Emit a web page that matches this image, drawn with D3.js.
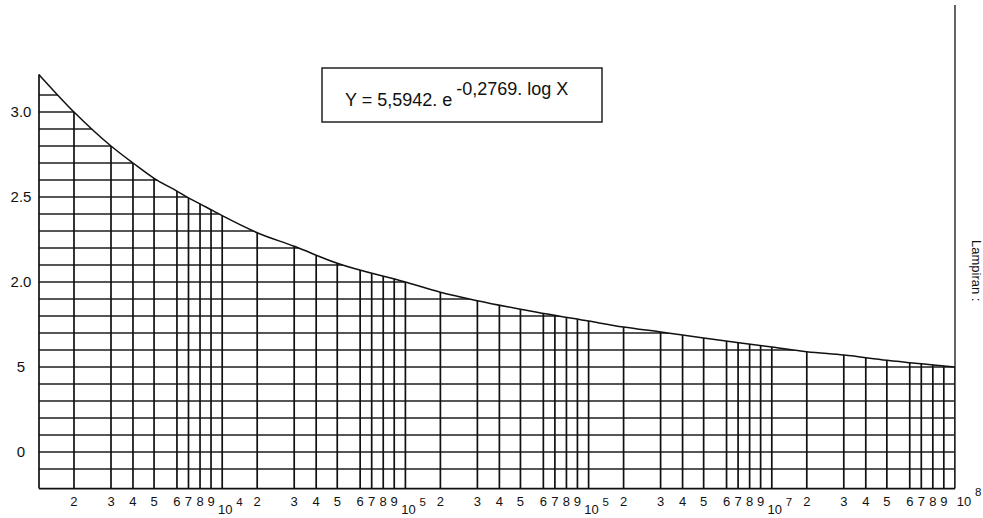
<!DOCTYPE html>
<html>
<head>
<meta charset="utf-8">
<script src="https://cdn.jsdelivr.net/npm/d3@7"></script>
<style>
    body { margin: 0; background: #fff; }
    text { font-family: "Liberation Sans", Arial, sans-serif; fill: #111; }
</style>
</head>
<body>
<div id="chart"></div>
<script>

// decades of the X axis (exponents of 10), the paper runs 10^3 .. 10^8
const decades = [3, 4, 5, 6, 7];
const minorSteps = [2, 3, 4, 5, 6, 7, 8, 9];
const minorLabels = ["2", "3", "4", "5", "6", "7", "8", "9"];
// position of the rulings 1..10 inside one decade, as printed on this paper
const paperRuling = [0, 0.191, 0.393, 0.513, 0.628, 0.753, 0.816, 0.879, 0.939, 1];
// decade labels as they appear under the axis
const decadeValues = [1e4, 1e5, 1e6, 1e7, 1e8];
const decadeSup = ["4", "5", "5", "7", "8"];

// Y axis
const yTickValues = [3.0, 2.5, 2.0, 1.5, 1.0];
const yTickLabels = ["3.0", "2.5", "2.0", "5", "0"];
const yGrid = [0.9, 1.0, 1.1, 1.2, 1.3, 1.4, 1.5, 1.6, 1.7, 1.8, 1.9, 2.0,
               2.1, 2.2, 2.3, 2.4, 2.5, 2.6, 2.7, 2.8, 2.9, 3.0, 3.1];
const yBottom = 0.785;

// the fitted curve
const curveX = [1e3, 2e3, 3e3, 4e3, 5e3, 6e3, 7e3, 8e3, 9e3,
                1e4, 2e4, 3e4, 5e4, 1e5, 2e5, 3e5, 5e5, 1e6,
                2e6, 3e6, 5e6, 1e7, 2e7, 3e7, 5e7, 1e8];
const curveY = [3.22, 3.00, 2.80, 2.70, 2.61, 2.535, 2.495, 2.46, 2.425,
                2.39, 2.29, 2.21, 2.11, 2.00, 1.94, 1.89, 1.84, 1.77,
                1.735, 1.706, 1.67, 1.618, 1.59, 1.57, 1.54, 1.50];

const equationMain = "Y = 5,5942. e";
const equationSup = "-0,2769. log X";
const sideNote = "Lampiran :";


class ChartPaper {

    constructor(_parentElement) {
        this.parentElement = _parentElement;
        this.initVis();
    }

    initVis() {
        let vis = this;

        vis.width = 983;
        vis.height = 518;

        vis.svg = d3.select("#" + vis.parentElement).append("svg")
            .attr("width", vis.width)
            .attr("height", vis.height);

        // Scales
        vis.xDecade = d3.scaleLinear().domain([3, 8]).range([39, 955]);
        vis.xMant = d3.scaleLinear()
            .domain([1, 2, 3, 4, 5, 6, 7, 8, 9, 10])
            .range(paperRuling);
        vis.x = function (v) {
            let e = Math.floor(Math.log10(v) + 1e-9);
            let m = v / Math.pow(10, e);
            return vis.xDecade(e + vis.xMant(m));
        };

        vis.y = d3.scaleLinear().domain([1, 3]).range([452, 112]);

        vis.data = curveX.map((d, i) => ({ x: d, y: curveY[i] }));

        vis.updateVis();
    }

    updateVis() {
        let vis = this;
        let x0 = vis.xDecade(3), x1 = vis.xDecade(8);
        let yb = vis.y(yBottom);

        let line = d3.line()
            .x(d => vis.x(d.x))
            .y(d => vis.y(d.y))
            .curve(d3.curveMonotoneX);

        let area = d3.area()
            .x(d => vis.x(d.x))
            .y0(yb)
            .y1(d => vis.y(d.y))
            .curve(d3.curveMonotoneX);

        vis.svg.append("clipPath")
            .attr("id", "under-curve")
            .append("path")
            .attr("d", area(vis.data));

        let grid = vis.svg.append("g").attr("clip-path", "url(#under-curve)");

        // horizontal rulings
        grid.selectAll(".hline")
            .data(yGrid)
            .enter().append("line")
            .attr("class", "hline")
            .attr("x1", x0).attr("x2", x1)
            .attr("y1", d => vis.y(d)).attr("y2", d => vis.y(d))
            .attr("stroke", "#1e1e1e")
            .attr("stroke-width", 1.5);

        // vertical rulings
        let vValues = [];
        decades.forEach(e => {
            minorSteps.forEach(m => vValues.push(m * Math.pow(10, e)));
        });
        decadeValues.forEach(d => vValues.push(d));

        grid.selectAll(".vline")
            .data(vValues)
            .enter().append("line")
            .attr("class", "vline")
            .attr("x1", d => vis.x(d)).attr("x2", d => vis.x(d))
            .attr("y1", yb).attr("y2", 0)
            .attr("stroke", "#111")
            .attr("stroke-width", 1.7);

        // frame
        vis.svg.append("line")
            .attr("x1", x0).attr("x2", x1)
            .attr("y1", yb).attr("y2", yb)
            .attr("stroke", "#111").attr("stroke-width", 1.8);

        vis.svg.append("line")
            .attr("x1", x0).attr("x2", x0)
            .attr("y1", yb).attr("y2", vis.y(curveY[0]))
            .attr("stroke", "#111").attr("stroke-width", 1.7);

        vis.svg.append("line")
            .attr("x1", x1).attr("x2", x1)
            .attr("y1", yb).attr("y2", 5)
            .attr("stroke", "#222").attr("stroke-width", 1.4);

        // the curve
        vis.svg.append("path")
            .attr("d", line(vis.data))
            .attr("fill", "none")
            .attr("stroke", "#111")
            .attr("stroke-width", 1.5);

        // Y labels
        vis.svg.selectAll(".ylab")
            .data(yTickValues)
            .enter().append("text")
            .attr("class", "ylab")
            .attr("x", 21)
            .attr("y", d => vis.y(d) + 5)
            .attr("text-anchor", "middle")
            .style("font-size", "15px")
            .text((d, i) => yTickLabels[i]);

        // X labels: 2 .. 9 in every decade
        let minorData = [];
        decades.forEach(e => {
            minorSteps.forEach((m, i) => minorData.push({ v: m * Math.pow(10, e), t: minorLabels[i] }));
        });

        vis.svg.selectAll(".xlab")
            .data(minorData)
            .enter().append("text")
            .attr("class", "xlab")
            .attr("x", d => vis.x(d.v))
            .attr("y", 506)
            .attr("text-anchor", "middle")
            .style("font-size", "13px")
            .text(d => d.t);

        // decade labels 10^n
        let dec = vis.svg.selectAll(".declab")
            .data(decadeValues)
            .enter().append("g")
            .attr("class", "declab")
            .attr("transform", (d, i) => {
                let last = i === decadeValues.length - 1;
                return "translate(" + (vis.x(d) + (last ? 9 : 3)) + "," + (last ? 506 : 514) + ")";
            });

        dec.append("text")
            .attr("text-anchor", "middle")
            .style("font-size", "13px")
            .text("10");

        dec.append("text")
            .attr("x", 11)
            .attr("y", (d, i) => i === decadeValues.length - 1 ? -10 : -8)
            .style("font-size", "11.5px")
            .text((d, i) => decadeSup[i]);

        // equation box
        vis.svg.append("rect")
            .attr("x", 322).attr("y", 68)
            .attr("width", 280).attr("height", 54)
            .attr("fill", "none")
            .attr("stroke", "#222")
            .attr("stroke-width", 1.5);

        let eq = vis.svg.append("text")
            .attr("x", 345)
            .attr("y", 106)
            .style("font-size", "18px");
        eq.append("tspan").text(equationMain);
        eq.append("tspan")
            .attr("dx", 4)
            .attr("dy", -11)
            .text(equationSup);

        // side note
        vis.svg.append("text")
            .attr("transform", "translate(972,240) rotate(90)")
            .style("font-size", "13px")
            .text(sideNote);
    }
}

new ChartPaper("chart");
</script>
</body>
</html>
